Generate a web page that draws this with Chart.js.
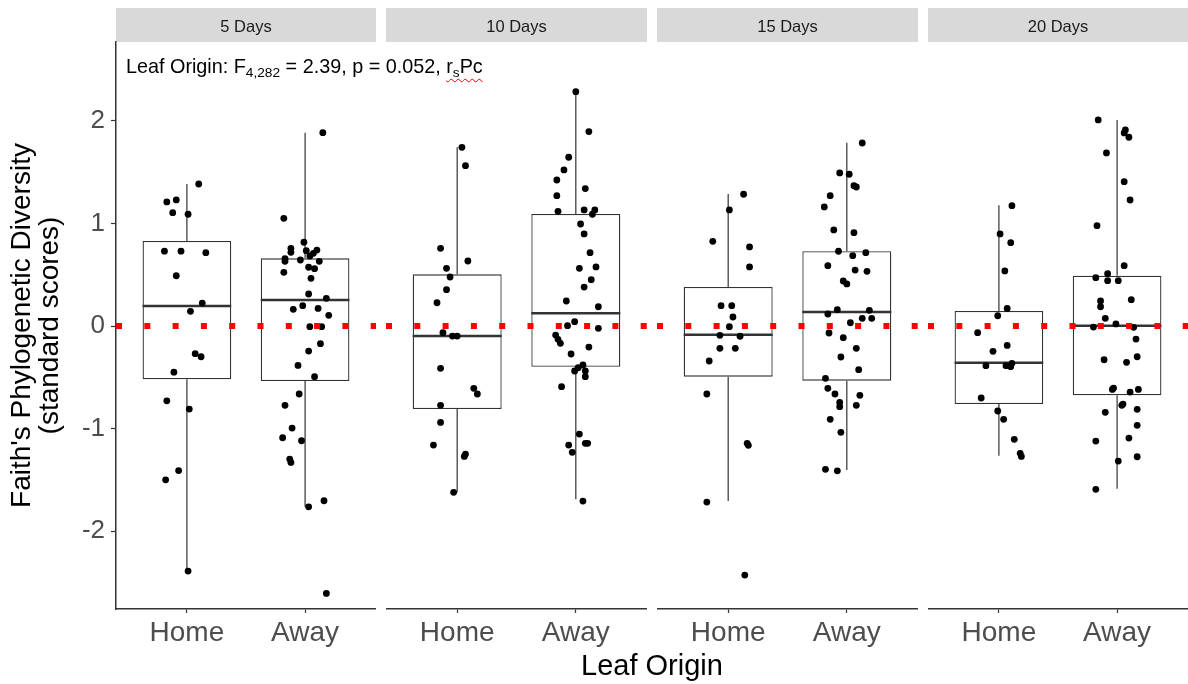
<!DOCTYPE html>
<html>
<head>
<meta charset="utf-8">
<title>Faith's Phylogenetic Diversity by leaf origin</title>
<script src="https://cdn.jsdelivr.net/npm/chart.js@4.4.1/dist/chart.umd.min.js"></script>
<style>
  body { margin: 0; background: #fff; }
  #figure { position: relative; width: 1188px; height: 684px; overflow: hidden;
            font-family: "Liberation Sans", Arial, sans-serif; }
  #figure canvas { position: absolute; top: 0; }
  .stat { position: absolute; left: 126px; top: 57px; font-size: 19.8px; line-height: 1;
          color: #000; white-space: nowrap; }
  .stat .sub { font-size: 13.7px; vertical-align: -4px; }
  .spell { text-decoration: underline wavy #e00; text-decoration-thickness: 1px;
           text-underline-offset: 5px; }
  .xtitle { position: absolute; left: 116px; width: 1072px; top: 651px; text-align: center;
            font-size: 29px; line-height: 1; color: #000; }
</style>
</head>
<body>
<div id="figure">
  <canvas id="facet0" width="376" height="684" style="left:0"></canvas>
  <canvas id="facet1" width="261" height="684" style="left:386px"></canvas>
  <canvas id="facet2" width="261" height="684" style="left:657px"></canvas>
  <canvas id="facet3" width="260" height="684" style="left:928px"></canvas>
  <div class="stat">Leaf Origin: F<span class="sub">4,282</span> = 2.39, p = 0.052, <span class="spell">r<span class="sub">s</span>Pc</span></div>
  <div class="xtitle">Leaf Origin</div>
</div>
<script>
const days = ['5 Days', '10 Days', '15 Days', '20 Days'];
const origins = ['Home', 'Away'];
const yTicks = [-2, -1, 0, 1, 2];
const reference = 0;

// box summaries, one [Home, Away] pair per day
const lowerWhisker  = [[-2.39, -1.763], [-1.622, -1.69], [-1.707, -1.405], [-1.265, -1.587]];
const lowerQuartile = [[-0.52, -0.537], [-0.81, -0.397], [-0.494, -0.533], [-0.761, -0.676]];
const medians       = [[0.195, 0.254], [-0.098, 0.124], [-0.085, 0.137], [-0.358, 0.003]];
const upperQuartile = [[0.83, 0.66], [0.504, 1.093], [0.38, 0.729], [0.146, 0.491]];
const upperWhisker  = [[1.385, 1.886], [1.743, 2.286], [1.288, 1.788], [1.177, 2.01]];

// individual standardised scores per day
const homeScores = [
  [1.385, 1.23, 1.21, 1.105, 1.09, 0.73, 0.73, 0.715, 0.49, 0.224, 0.143, -0.27, -0.30, -0.45, -0.73, -0.81, -1.41, -1.50, -2.39],
  [1.743, 1.564, 0.758, 0.634, 0.563, 0.478, 0.354, 0.227, -0.065, -0.098, -0.098, -0.413, -0.608, -0.663, -0.774, -0.94, -1.161, -1.249, -1.272, -1.622],
  [1.285, 1.132, 0.826, 0.771, 0.576, 0.198, 0.198, 0.088, -0.006, -0.091, -0.1, -0.218, -0.218, -0.341, -0.663, -1.144, -1.164, -1.717, -2.429],
  [1.174, 0.898, 0.813, 0.537, 0.172, 0.1, -0.065, -0.189, -0.247, -0.364, -0.387, -0.387, -0.397, -0.702, -0.829, -0.91, -1.105, -1.242, -1.272]
];
const homeJitter = [
  [0.10, -0.09, -0.17, -0.12, 0.01, -0.19, -0.05, 0.16, -0.09, 0.13, 0.03, 0.07, 0.12, -0.11, -0.17, 0.02, -0.07, -0.18, 0.01],
  [0.04, 0.07, -0.14, 0.09, -0.09, -0.06, -0.09, -0.17, -0.12, -0.04, 0.00, -0.14, 0.14, 0.17, -0.14, -0.14, -0.20, 0.07, 0.06, -0.03],
  [0.13, 0.01, -0.13, 0.18, 0.18, -0.06, 0.03, 0.04, 0.01, -0.07, 0.10, -0.07, 0.06, -0.16, -0.18, 0.16, 0.17, -0.18, 0.14],
  [0.11, 0.01, 0.10, 0.05, 0.07, -0.01, -0.18, 0.07, -0.05, 0.11, -0.11, 0.06, 0.10, -0.15, -0.01, 0.04, 0.13, 0.18, 0.19]
];
const awayScores = [
  [1.886, 1.05, 0.817, 0.758, 0.741, 0.735, 0.719, 0.709, 0.683, 0.657, 0.644, 0.631, 0.631, 0.573, 0.559, 0.524, 0.465, 0.312, 0.27, 0.198,
   0.172, 0.163, 0.104, -0.006, -0.006, -0.172, -0.244, -0.384, -0.494, -0.663, -0.774, -0.995, -1.09, -1.119, -1.298, -1.33, -1.704, -1.763, -2.608],
  [2.286, 1.896, 1.646, 1.522, 1.424, 1.34, 1.271, 1.132, 1.132, 1.119, 1.09, 0.995, 0.898, 0.715, 0.576, 0.563, 0.452, 0.38, 0.244, 0.188,
   0.042, 0.003, -0.023, -0.088, -0.13, -0.169, -0.205, -0.273, -0.38, -0.407, -0.439, -0.439, -0.494, -0.592, -1.054, -1.144, -1.144, -1.161, -1.232, -1.707],
  [1.785, 1.493, 1.48, 1.369, 1.356, 1.271, 1.161, 0.937, 0.91, 0.729, 0.715, 0.686, 0.588, 0.546, 0.533, 0.439, 0.41, 0.159, 0.153, 0.117,
   0.075, 0.075, 0.032, -0.068, -0.114, -0.218, -0.302, -0.426, -0.51, -0.608, -0.663, -0.676, -0.745, -0.774, -0.787, -0.91, -1.037, -1.398, -1.412],
  [2.01, 1.912, 1.883, 1.841, 1.688, 1.408, 1.229, 0.979, 0.588, 0.51, 0.471, 0.442, 0.442, 0.257, 0.244, 0.188, 0.075, 0.02, -0.01,
   -0.013, -0.127, -0.3, -0.329, -0.354, -0.605, -0.618, -0.618, -0.644, -0.761, -0.774, -0.813, -0.842, -0.969, -1.093, -1.122, -1.275, -1.317, -1.593]
];
const awayJitter = [
  [0.15, -0.18, -0.01, -0.12, 0.10, 0.01, -0.12, 0.07, 0.04, -0.17, -0.04, -0.17, 0.12, 0.03, 0.08, -0.18, 0.05, 0.03, 0.18, -0.02,
   0.11, -0.10, 0.20, 0.04, 0.14, 0.13, 0.03, -0.06, 0.08, -0.05, -0.17, -0.11, -0.19, -0.03, -0.13, -0.12, 0.16, 0.03, 0.18],
  [0.00, 0.11, -0.06, -0.10, -0.16, 0.08, -0.16, 0.07, 0.16, -0.15, 0.14, 0.04, 0.07, 0.12, 0.17, 0.03, 0.13, 0.07, -0.08, 0.19,
   -0.01, -0.07, 0.19, -0.17, -0.15, -0.13, 0.11, -0.04, 0.06, 0.02, -0.01, 0.08, 0.08, -0.12, 0.03, 0.08, 0.10, -0.06, -0.03, 0.06],
  [0.13, -0.06, 0.02, 0.06, 0.08, -0.14, -0.19, -0.11, 0.06, -0.07, 0.16, 0.05, -0.16, 0.07, 0.17, -0.03, 0.00, -0.08, 0.19, -0.16,
   0.13, 0.21, 0.03, -0.15, -0.03, 0.08, -0.05, 0.10, -0.18, -0.16, -0.10, 0.11, -0.06, 0.08, -0.06, -0.14, -0.05, -0.18, -0.08],
  [-0.16, 0.07, 0.06, 0.10, -0.09, 0.06, 0.11, -0.17, 0.06, -0.08, -0.18, -0.08, 0.01, 0.12, -0.14, -0.14, -0.10, -0.01, -0.20,
   0.14, 0.16, 0.17, -0.11, 0.08, -0.03, -0.04, 0.18, 0.11, 0.05, 0.04, 0.17, -0.10, 0.17, 0.10, -0.18, 0.17, 0.01, -0.18]
];

const FONT = '"Liberation Sans", Arial, sans-serif';
Chart.defaults.font.family = FONT;

const xMin = 0.4, xMax = 2.6;   // discrete axis padded 0.6 each side
const boxHalf = 0.375;          // half of the 0.75 box width

// grey facet header above each panel
const facetStrip = {
  id: 'facetStrip',
  beforeDraw(chart, args, opts) {
    const { ctx, chartArea: a } = chart;
    ctx.save();
    ctx.fillStyle = '#d9d9d9';
    ctx.fillRect(a.left, a.top - 34, a.right - a.left, 34);
    ctx.fillStyle = '#1a1a1a';
    ctx.font = '16.5px ' + FONT;
    ctx.textAlign = 'center';
    ctx.textBaseline = 'middle';
    ctx.fillText(opts.label, (a.left + a.right) / 2, a.top - 15);
    ctx.restore();
  }
};

function drawFacet(d) {
  const first = d === 0;
  const boxes = origins.map((o, i) => ({ x: i + 1, y: [lowerQuartile[d][i], upperQuartile[d][i]] }));
  const whiskers = [];
  const medianLines = [];
  origins.forEach((o, i) => {
    const x = i + 1;
    whiskers.push({ x, y: upperWhisker[d][i] }, { x, y: upperQuartile[d][i] }, { x, y: null },
                  { x, y: lowerQuartile[d][i] }, { x, y: lowerWhisker[d][i] }, { x, y: null });
    medianLines.push({ x: x - boxHalf, y: medians[d][i] }, { x: x + boxHalf, y: medians[d][i] }, { x, y: null });
  });
  const points = homeScores[d].map((v, k) => ({ x: 1 + homeJitter[d][k], y: v }))
    .concat(awayScores[d].map((v, k) => ({ x: 2 + awayJitter[d][k], y: v })));

  new Chart(document.getElementById('facet' + d), {
    type: 'scatter',
    data: {
      datasets: [
        {
          type: 'line', data: [{ x: xMin, y: reference }, { x: xMax, y: reference }],
          borderColor: '#ff0000', borderWidth: 6, borderDash: [6, 22.3], borderCapStyle: 'butt',
          pointRadius: 0, showLine: true, order: 0
        },
        {
          type: 'scatter', data: points, backgroundColor: '#000', borderWidth: 0,
          pointRadius: 3.4, order: 1
        },
        {
          type: 'line', data: medianLines, borderColor: '#333', borderWidth: 2.4,
          pointRadius: 0, showLine: true, spanGaps: false, order: 2
        },
        {
          type: 'line', data: whiskers, borderColor: '#333', borderWidth: 1.2,
          pointRadius: 0, showLine: true, spanGaps: false, order: 3
        },
        {
          type: 'bar', data: boxes, backgroundColor: '#fff', borderColor: '#333', borderWidth: 1.3,
          borderSkipped: false, barPercentage: 0.75, categoryPercentage: 1, order: 4
        }
      ]
    },
    options: {
      responsive: false,
      animation: false,
      events: [],
      layout: { autoPadding: false, padding: { top: 42, right: 0, bottom: 0, left: 0 } },
      plugins: {
        legend: { display: false },
        tooltip: { enabled: false },
        facetStrip: { label: days[d] }
      },
      scales: {
        x: {
          type: 'linear', min: xMin, max: xMax, offset: false,
          afterBuildTicks: s => { s.ticks = origins.map((o, i) => ({ value: i + 1 })); },
          afterFit: s => { s.height = 75; },
          ticks: {
            callback: (v, i) => origins[i], color: '#4d4d4d', font: { size: 28 },
            padding: 3, maxRotation: 0, autoSkip: false
          },
          grid: { drawOnChartArea: false, offset: false, tickLength: 4, tickColor: '#333', tickWidth: 1.2 },
          border: { color: '#333', width: 1.5 }
        },
        y: {
          type: 'linear', min: -2.76, max: 2.77, display: first,
          afterBuildTicks: s => { s.ticks = yTicks.map(v => ({ value: v })); },
          afterFit: s => { if (first) s.width = 116; },
          ticks: { color: '#4d4d4d', font: { size: 26 }, padding: 6 },
          grid: { drawOnChartArea: false, tickLength: 5, tickColor: '#333', tickWidth: 1.2 },
          border: { color: '#333', width: 1.5 },
          title: {
            display: true,
            text: ["Faith's Phylogenetic Diversity", '(standard scores)'],
            color: '#000', font: { size: 28, lineHeight: 1 },
            padding: { top: 8, bottom: 0 }
          }
        }
      }
    },
    plugins: [facetStrip]
  });
}

days.forEach((day, d) => drawFacet(d));
</script>
</body>
</html>
